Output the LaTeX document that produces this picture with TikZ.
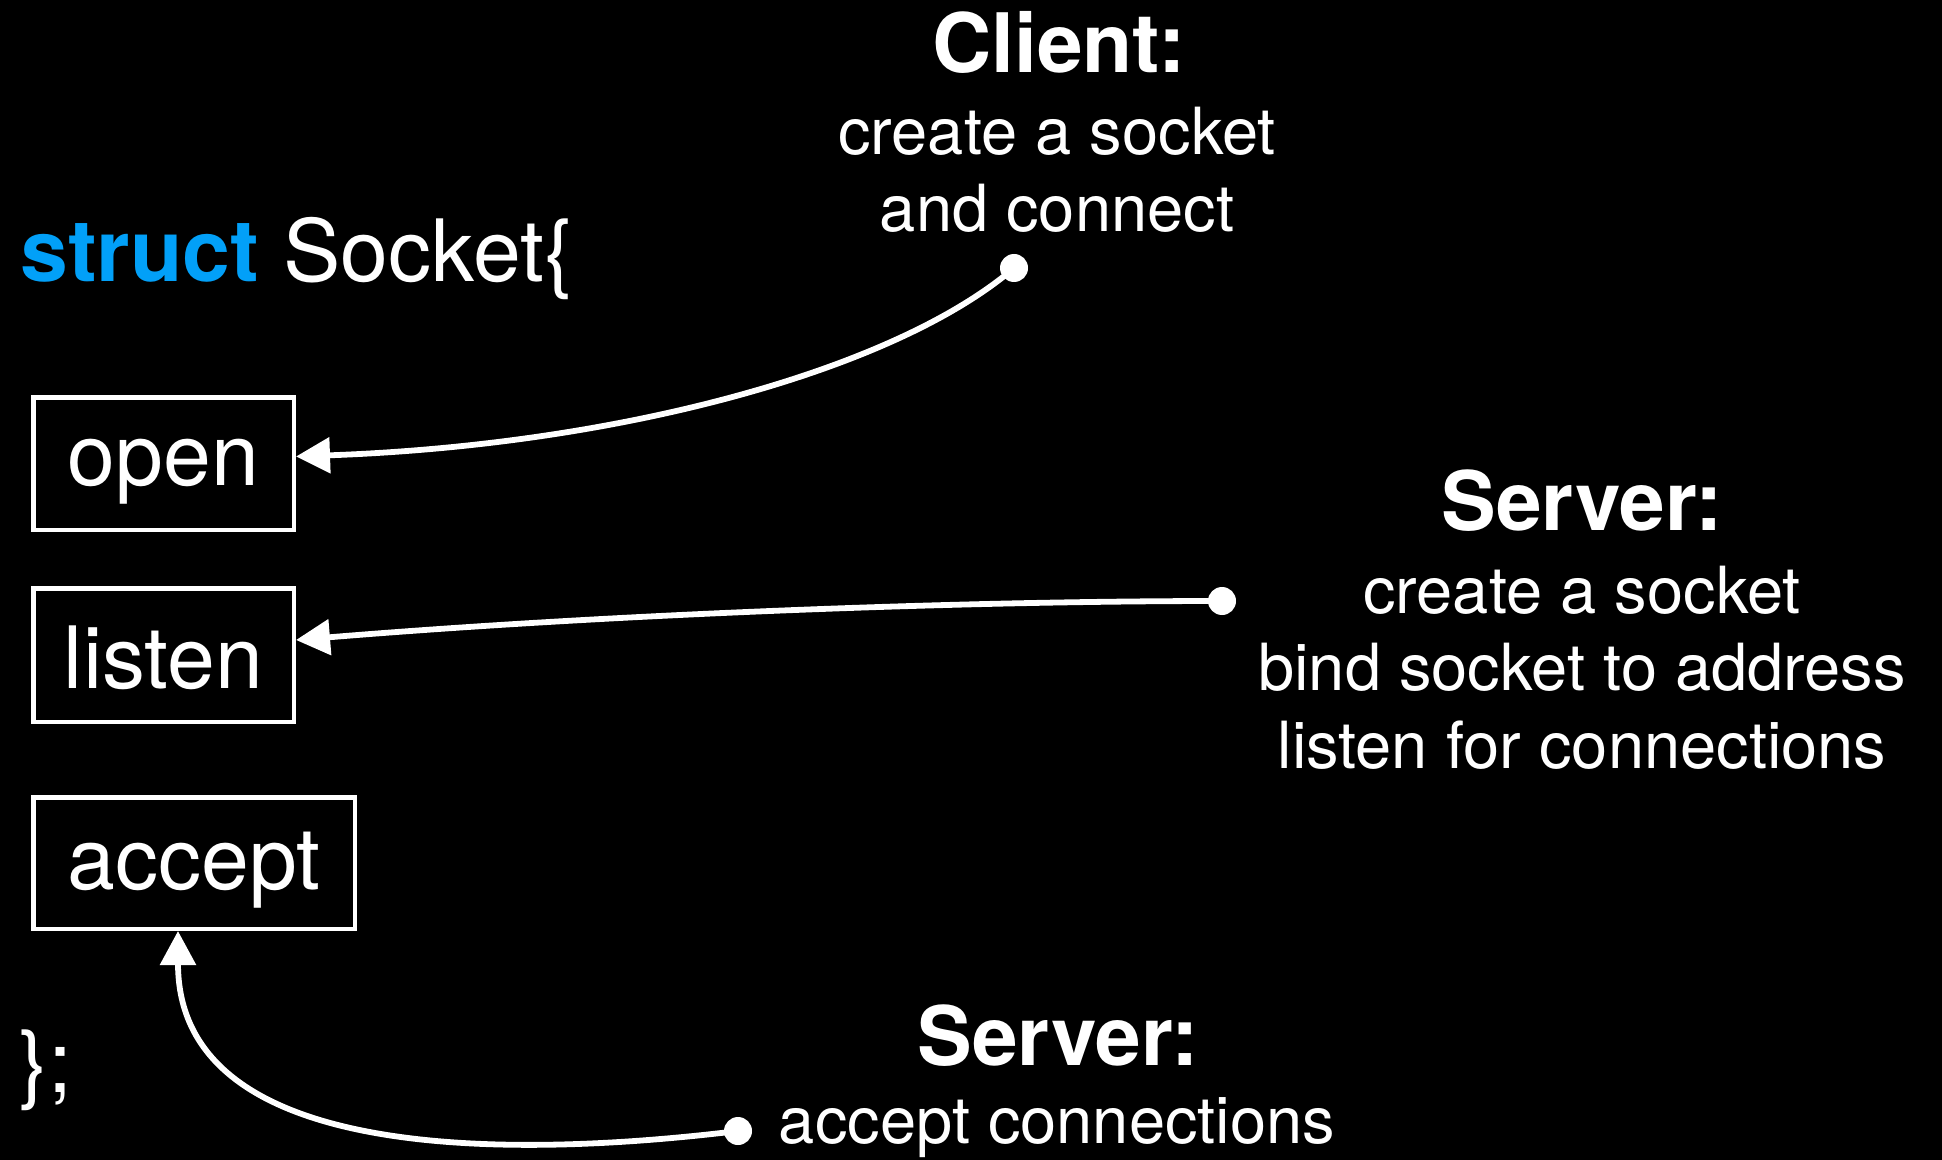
\documentclass[tikz,border=0pt]{standalone}
\usepackage{fontspec}
\setmainfont{TeX Gyre Heros}
\usetikzlibrary{arrows.meta}
\definecolor{keyword}{RGB}{2,160,248}

\begin{document}
\begin{tikzpicture}[x=0.5pt,y=-0.5pt,
  member/.style={draw=white, line width=2.25pt, inner sep=0pt, text=white,
    font=\fontsize{43}{50}\selectfont, text depth=9pt},
  codetext/.style={text=white, anchor=base west, inner sep=0pt,
    font=\fontsize{43}{50}\selectfont},
  heading/.style={text=white, anchor=base, inner sep=0pt,
    font=\bfseries\fontsize{41}{48}\selectfont},
  note/.style={text=white, anchor=base, inner sep=0pt,
    font=\fontsize{32.5}{39}\selectfont},
  enddot/.style={circle, fill=white, minimum size=14pt, inner sep=0pt},
  link/.style={draw=white, line width=2.9pt, line cap=round,
    -{Triangle[length=17pt,width=17.5pt]}}
]
% canvas
\useasboundingbox (0,0) rectangle (1942,1160);
\fill[black] (0,0) rectangle (1942,1160);

% struct declaration
\node[codetext] (decl) at (20,282) {\textcolor{keyword}{\bfseries struct} Socket\{};
\node[codetext] (close) at (19,1092) {\};};

% member functions
\node[member, minimum width=130.25pt, minimum height=66.25pt, text height=30.5pt]
  (open) at (163.5,463.5) {open};
\node[member, minimum width=130.25pt, minimum height=66.75pt, text height=42pt]
  (listen) at (163.5,655) {listen};
\node[member, minimum width=160.75pt, minimum height=65.75pt, text height=35pt]
  (accept) at (194,863) {accept};

% client notes
\node[heading] (clienthead) at (1059,73) {Client:};
\node[note] (client1) at (1057,155) {create a socket};
\node[note] (client2) at (1057,232) {and connect};

% server notes (listen)
\node[heading] (serverhead) at (1582,530) {Server:};
\node[note] (server1) at (1582,613) {create a socket};
\node[note] (server2) at (1582,690) {bind socket to address};
\node[note] (server3) at (1582,768) {listen for connections};

% server notes (accept)
\node[heading] (accepthead) at (1058,1065) {Server:};
\node[note] (accept1) at (1057,1143) {accept connections};

% connector start points
\node[enddot] (clientdot) at (1014,268) {};
\node[enddot] (listendot) at (1222,601) {};
\node[enddot] (acceptdot) at (738,1131) {};

% connectors
\draw[link] (clientdot.center) .. controls (895,370) and (620,445) .. ([yshift=3.5pt]open.east);
\draw[link] (listendot.center) .. controls (950,601) and (600,615) .. ([yshift=7.5pt]listen.east);
\draw[link] (acceptdot.center) .. controls (500,1160) and (178,1160) .. ([xshift=-8pt]accept.south);
\end{tikzpicture}
\end{document}
